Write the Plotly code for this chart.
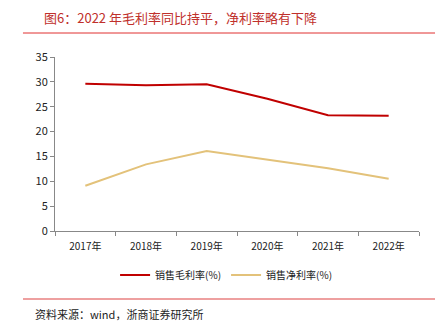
import plotly.graph_objects as go

years = ["2017年", "2018年", "2019年", "2020年", "2021年", "2022年"]
gross_margin = [29.6, 29.3, 29.5, 26.6, 23.3, 23.2]
net_margin = [9.1, 13.4, 16.1, 14.3, 12.6, 10.5]

title_text = "图6：2022 年毛利率同比持平，净利率略有下降"
source_text = "资料来源：wind，浙商证券研究所"

fig = go.Figure()
fig.add_trace(go.Scatter(x=years, y=gross_margin, mode="lines", name="销售毛利率(%)",
                         line=dict(color="#C00000", width=2)))
fig.add_trace(go.Scatter(x=years, y=net_margin, mode="lines", name="销售净利率(%)",
                         line=dict(color="#E3C27A", width=2)))

fig.update_layout(
    width=446, height=328,
    margin=dict(l=55, r=27, t=57, b=97),
    paper_bgcolor="white", plot_bgcolor="white",
    font=dict(family="Noto Sans CJK SC, sans-serif", size=10, color="#222"),
    showlegend=True,
    legend=dict(orientation="h", x=0.47, xanchor="center", y=-0.17, yanchor="top",
                font=dict(size=10), itemwidth=30, tracegroupgap=0),
    xaxis=dict(range=[-0.5, 5.5], showline=True, linecolor="#888", linewidth=1,
               ticks="outside", tickson="boundaries", ticklen=4, tickcolor="#888",
               showgrid=False, tickfont=dict(size=10), ticklabelstandoff=6),
    yaxis=dict(range=[0, 35], dtick=5, showline=True, linecolor="#888", linewidth=1,
               ticks="outside", ticklen=4, tickcolor="#888", showgrid=False,
               zeroline=False, tickfont=dict(size=11)),
)

fig.add_annotation(text=title_text, xref="paper", yref="paper", x=0, y=1.0,
                   xanchor="left", yanchor="bottom", xshift=-13, yshift=28,
                   showarrow=False,
                   font=dict(size=13, color="#C0302B", family="Noto Sans CJK SC"))
fig.add_annotation(text=source_text, xref="paper", yref="paper", x=0, y=0,
                   xanchor="left", yanchor="top", xshift=-22, yshift=-73,
                   showarrow=False,
                   font=dict(size=11, color="#222", family="Noto Sans CJK SC"))

# horizontal rules below the title and above the source line
fig.add_shape(type="line", xref="paper", yref="paper", x0=-0.088, x1=1.044,
              y0=1 + (57 - 33) / 174, y1=1 + (57 - 33) / 174,
              line=dict(color="#E03030", width=1))
fig.add_shape(type="line", xref="paper", yref="paper", x0=-0.088, x1=1.044,
              y0=(231 - 299) / 174, y1=(231 - 299) / 174,
              line=dict(color="#E88080", width=1.5))

fig.write_html("out.html")
